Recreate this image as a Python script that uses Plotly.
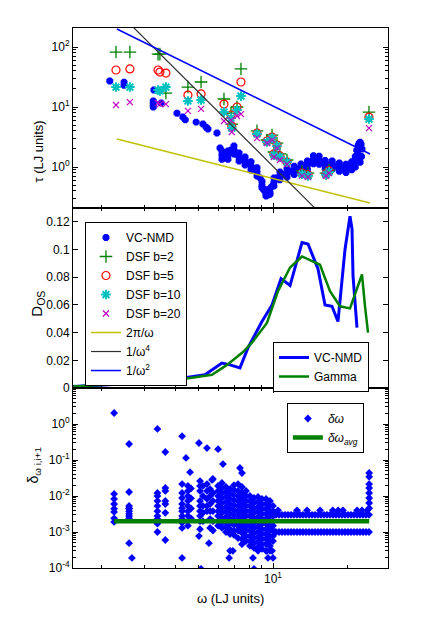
import plotly.graph_objects as go
from plotly.subplots import make_subplots

# ---------------- top panel: lifetimes ----------------
vc_omega = [2.17, 2.48, 2.48, 3.28, 3.26, 3.26, 3.26, 3.51, 4.07, 4.30, 4.40, 4.87, 5.19, 5.35, 5.44, 5.92,
            6.09, 6.20, 6.38, 6.56, 6.75, 6.94, 7.07, 7.28, 7.48, 7.70, 7.91, 8.14, 8.37, 8.61, 8.86, 9.02,
            9.19, 9.37, 9.54, 9.72, 9.91, 10.09, 10.38, 10.67, 11.0, 11.4, 11.8, 12.2, 12.6, 13.0, 13.4,
            13.8, 14.2, 14.6, 15.0, 15.4, 15.8, 16.3, 16.8, 17.4, 18.0, 18.6, 19.2, 19.8, 20.4, 20.9, 21.3,
            21.6, 21.9, 22.2, 22.4, 21.6, 21.9, 22.2, 22.4, 22.6, 22.8, 23.0, 22.9, 22.6]
vc_tau = [27.1, 26.0, 23.0, 19.2, 12.6, 11.2, 10.0, 11.7, 7.9, 6.8, 6.1, 5.6, 5.2, 4.6, 4.3, 3.7,
          2.07, 1.58, 1.41, 1.58, 1.92, 1.92, 1.65, 1.47, 1.36, 1.26, 1.17, 1.04, 0.93, 0.83, 0.66, 0.50,
          0.41, 0.355, 0.34, 0.38, 0.48, 0.56, 0.66, 0.71, 0.76, 0.80, 0.84, 0.88, 0.92, 0.96, 1.02,
          1.08, 1.2, 1.32, 1.40, 1.30, 1.18, 1.10, 1.08, 1.08, 1.04, 1.0, 0.97, 0.95, 0.97, 1.05, 1.2,
          1.5, 1.9, 2.3, 2.5, 1.0, 1.3, 1.6, 2.0, 2.6, 2.4, 2.0, 1.5, 1.2]
vc_band_omega = [6.2, 6.56, 6.94, 7.28, 7.7, 8.14, 8.61, 9.02, 9.37, 9.72, 10.09, 10.67, 11.4, 12.2, 13.0,
                 13.8, 14.6, 15.4, 16.3, 17.4, 18.6, 19.8, 20.9]
vc_band_upper = [1.85, 1.85, 2.25, 1.72, 1.47, 1.22, 0.97, 0.58, 0.42, 0.44, 0.66, 0.83, 0.94, 1.03, 1.12,
                 1.26, 1.54, 1.52, 1.29, 1.26, 1.17, 1.11, 1.23]
vc_band_lower = [1.35, 1.35, 1.64, 1.26, 1.08, 0.89, 0.71, 0.45, 0.33, 0.35, 0.48, 0.61, 0.68, 0.75, 0.82,
                 0.92, 1.13, 1.11, 0.94, 0.92, 0.85, 0.81, 0.90]

dsf_omega = [2.30, 2.62, 3.41, 3.47, 3.67, 4.51, 5.10, 6.32, 6.75, 6.80, 7.14, 7.41, 8.61, 9.45, 9.91,
             10.09, 10.38, 10.67, 11.40, 13.12, 13.88, 16.41, 16.89, 24.55]
dsf_b2 = [82.5, 82.5, 76.0, 76.0, 17.1, 21.5, 26.1, 13.6, 7.9, 5.2, 10.0, 43.1, 4.0, 2.82, 3.41,
          1.78, 2.51, 1.65, 1.31, 0.86, 0.79, 0.79, 0.89, 8.25]
dsf_b5 = [41.4, 43.1, 41.4, 38.3, 36.8, 15.8, 16.5, 11.2, 7.36, 4.82, 10.0, 26.1, 3.69, 2.71, 3.16,
          1.65, 2.33, 1.53, 1.21, 0.79, 0.74, 0.76, 0.86, 6.8]
dsf_b10 = [21.5, 21.5, 19.2, 18.5, 21.5, 12.6, 13.1, 8.25, 6.55, 4.46, 8.9, 15.2, 3.55, 2.61, 3.04,
           1.58, 2.24, 1.47, 1.21, 0.76, 0.71, 0.74, 0.83, 6.3]
dsf_b20 = [10.8, 12.1, 11.7, 11.2, 11.2, 8.6, 9.3, 5.84, 6.0, 3.83, 7.08, 7.6, 3.04, 2.51, 2.82,
           1.47, 2.07, 1.31, 1.12, 0.71, 0.68, 0.71, 0.79, 4.46]

ref_omega = [2.32, 24.8]
ref_2pi = [2.93, 0.251]
ref_w2 = [200, 1.65]
ref_w4_omega = [2.70, 14.8]
ref_w4 = [215, 0.207]

# ---------------- middle panel: density of states ----------------
dos_vc_omega = [1.54, 1.98, 3.16, 4.60, 5.29, 6.20, 6.69, 7.34, 7.91, 9.02, 9.91, 10.78, 11.73, 13.12,
                13.88, 15.24, 16.27, 17.37, 18.37, 19.62, 20.56, 20.95, 21.15, 21.95]
dos_vc = [0.001, 0.002, 0.004, 0.008, 0.0095, 0.018, 0.0167, 0.0145, 0.029, 0.048, 0.060, 0.079, 0.074,
          0.105, 0.104, 0.086, 0.060, 0.059, 0.048, 0.100, 0.124, 0.115, 0.081, 0.0436]
dos_g_omega = [1.54, 1.98, 3.16, 4.60, 5.65, 6.50, 7.55, 8.21, 9.45, 10.48, 11.73, 13.12, 15.52, 17.05,
               18.72, 20.56, 23.0, 23.66, 24.34]
dos_g = [0.001, 0.002, 0.004, 0.0073, 0.0095, 0.0167, 0.026, 0.0327, 0.047, 0.070, 0.087, 0.095, 0.089,
         0.070, 0.059, 0.0575, 0.082, 0.059, 0.040]

# ---------------- bottom panel: frequency spacing ----------------
out_omega = [2.26, 2.60, 2.60, 2.67, 3.39, 3.39, 3.65, 3.65, 4.27, 4.43, 4.60, 4.27, 5.0, 5.39, 5.98,
             5.65, 6.26, 7.34, 7.48, 5.0, 5.1, 5.49, 6.69, 6.87, 6.63, 8.29, 8.37, 9.54, 9.45, 9.91, 10.0]
out_delta = [2.02, 0.278, 0.00049, 0.00019, 0.73, 0.001, 0.167, 0.0006, 0.46, 0.114, 0.046, 0.00019,
             0.297, 0.215, 0.20, 0.028, 0.077, 0.060, 0.0435, 0.00077, 0.000095, 0.00049, 0.0003,
             0.0003, 0.00019, 0.00019, 0.000095, 0.00019, 0.0003, 0.0003, 0.00019]

col_omega = [2.26, 2.60, 3.39, 3.65, 4.27, 4.51, 4.64,
             5.05, 5.19, 5.39, 5.55, 5.70, 5.98, 6.20, 6.44, 6.69, 6.94, 7.21, 7.48, 7.77, 8.06,
             8.37, 8.69, 9.02, 9.37, 9.72, 10.0, 24.6]
col_delta = [
    [0.0114, 0.0083, 0.0060, 0.0044, 0.0036, 0.0024, 0.0019],
    [0.0129, 0.0053, 0.0046, 0.0044, 0.0038, 0.0032, 0.0028, 0.0024],
    [0.0121, 0.0100, 0.0073, 0.0053, 0.0038, 0.0028, 0.0023, 0.0017],
    [0.0167, 0.0138, 0.0073, 0.0060, 0.0034],
    [0.0215, 0.0121, 0.0088, 0.0060, 0.0046, 0.0038, 0.0028, 0.0023, 0.0018, 0.0013],
    [0.019, 0.0138, 0.0100, 0.0073, 0.0053, 0.0038, 0.0028, 0.0020, 0.0015],
    [0.0162, 0.0086, 0.0045, 0.0024],
    [0.026, 0.019, 0.0138, 0.0073, 0.0053, 0.0038, 0.0028, 0.0020, 0.0012],
    [0.019, 0.0100, 0.0053, 0.0034, 0.0020],
    [0.0215, 0.0138, 0.0083, 0.0053, 0.0038],
    [0.0156, 0.0100, 0.0060, 0.0038, 0.0023, 0.0013],
    [0.0297, 0.0121, 0.0073, 0.0038, 0.0020, 0.0011],
    [0.019, 0.0138, 0.0100, 0.0073, 0.0053, 0.0038, 0.0028, 0.0020, 0.0015],
    [0.023, 0.0167, 0.0121, 0.0088, 0.0064, 0.0046, 0.0034, 0.0024, 0.0018, 0.0013],
    [0.0178, 0.0129, 0.0094, 0.0068, 0.0049, 0.0036, 0.0026, 0.0019, 0.0014, 0.0010],
    [0.0156, 0.0114, 0.0083, 0.0060, 0.0044, 0.0032, 0.0023, 0.0017, 0.0012, 0.00088],
    [0.020, 0.0147, 0.0107, 0.0077, 0.0056, 0.0041, 0.0030, 0.0022, 0.0016, 0.0011, 0.00083],
    [0.0215, 0.0138, 0.0100, 0.0073, 0.0053, 0.0038, 0.0028, 0.0020, 0.0015, 0.0011, 0.00068],
    [0.0178, 0.0121, 0.0088, 0.0064, 0.0046, 0.0034, 0.0024, 0.0018, 0.0013, 0.00094, 0.00064, 0.00046],
    [0.0138, 0.0100, 0.0073, 0.0053, 0.0038, 0.0028, 0.0020, 0.0015, 0.0011, 0.00077, 0.00056],
    [0.0100, 0.0073, 0.0053, 0.0038, 0.0028, 0.0020, 0.0015, 0.0011, 0.00077, 0.00056, 0.00041],
    [0.0088, 0.0064, 0.0046, 0.0034, 0.0024, 0.0018, 0.0013, 0.00094, 0.00068, 0.00049, 0.00036],
    [0.0094, 0.0068, 0.0049, 0.0036, 0.0026, 0.0019, 0.0014, 0.0010, 0.00073, 0.00053, 0.00038, 0.00030],
    [0.0083, 0.0060, 0.0044, 0.0032, 0.0023, 0.0017, 0.0012, 0.00088, 0.00064, 0.00046, 0.00034],
    [0.0083, 0.0060, 0.0044, 0.0032, 0.0023, 0.0017, 0.0012, 0.00088, 0.00064, 0.00046, 0.00030],
    [0.0073, 0.0053, 0.0038, 0.0028, 0.0020, 0.0015, 0.0011, 0.00077, 0.00056, 0.00041, 0.00030],
    [0.0053, 0.0038, 0.0028, 0.0020, 0.0015, 0.0011, 0.00077, 0.00056],
    [0.0435, 0.034, 0.0215, 0.0167, 0.0121, 0.0088, 0.0064, 0.0046],
]

band_omega = [10.28, 10.58, 10.88, 11.19, 11.51, 11.84, 12.17, 12.52, 12.88, 13.24, 13.62, 14.01, 14.41,
              14.82, 15.24, 15.67, 16.12, 16.58, 17.05, 17.54, 18.04, 18.55, 19.08, 19.62, 20.18, 20.76,
              21.35, 21.96, 22.58, 23.23, 23.89, 24.57]
band_upper = [0.003, 0.003, 0.003, 0.003, 0.003, 0.003, 0.003, 0.003, 0.003, 0.003, 0.003, 0.003, 0.003,
              0.003, 0.003, 0.003, 0.003, 0.003, 0.003, 0.003, 0.003, 0.003, 0.003, 0.003, 0.003, 0.003,
              0.003, 0.003, 0.003, 0.003, 0.003, 0.003]
band_lower = [0.001, 0.001, 0.001, 0.001, 0.001, 0.001, 0.001, 0.001, 0.001, 0.001, 0.001, 0.001, 0.001,
              0.001, 0.001, 0.001, 0.001, 0.001, 0.001, 0.001, 0.001, 0.001, 0.001, 0.001, 0.001, 0.001,
              0.001, 0.001, 0.001, 0.001, 0.001, 0.001]
bump_omega = [10.48, 12.52, 13.75, 15.53, 17.5, 18.4, 19.25, 21.97, 23.0, 24.2]
bump_delta = [0.004, 0.004, 0.004, 0.004, 0.004, 0.004, 0.004, 0.004, 0.004, 0.004]

avg_omega = [2.26, 24.6]
avg_delta = [0.002, 0.002]

# ---------------- assemble ----------------
FONT = "Liberation Sans"
BLACK = "#000000"

d_omega, d_delta = list(out_omega), list(out_delta)
for w, ds in zip(col_omega, col_delta):
    d_omega += [w] * len(ds)
    d_delta += ds
d_omega += band_omega + band_omega + bump_omega
d_delta += band_upper + band_lower + bump_delta

fig = make_subplots(rows=3, cols=1, shared_xaxes=True, vertical_spacing=0)

fig.add_trace(go.Scatter(x=vc_omega + vc_band_omega + vc_band_omega,
                         y=vc_tau + vc_band_upper + vc_band_lower,
                         mode="markers", name="VC-NMD", legend="legend",
                         marker=dict(symbol="octagon", size=7.5, color="#0000ff")), row=1, col=1)
fig.add_trace(go.Scatter(x=dsf_omega, y=dsf_b2, mode="markers", name="DSF b=2", legend="legend",
                         marker=dict(symbol="cross-thin-open", size=9, color="#008000",
                                     line=dict(width=1.3, color="#008000"))), row=1, col=1)
fig.add_trace(go.Scatter(x=dsf_omega, y=dsf_b5, mode="markers", name="DSF b=5", legend="legend",
                         marker=dict(symbol="circle-open", size=8, color="#ff0000",
                                     line=dict(width=1.2, color="#ff0000"))), row=1, col=1)
fig.add_trace(go.Scatter(x=dsf_omega, y=dsf_b10, mode="markers", name="DSF b=10", legend="legend",
                         marker=dict(symbol="asterisk-open", size=8, color="#00c0c0",
                                     line=dict(width=2, color="#00c0c0"))), row=1, col=1)
fig.add_trace(go.Scatter(x=dsf_omega, y=dsf_b20, mode="markers", name="DSF b=20", legend="legend",
                         marker=dict(symbol="x-thin-open", size=6, color="#c000c0",
                                     line=dict(width=1.2, color="#c000c0"))), row=1, col=1)
fig.add_trace(go.Scatter(x=ref_omega, y=ref_2pi, mode="lines", name="2π/ω", legend="legend",
                         line=dict(color="#c0c000", width=1.5)), row=1, col=1)
fig.add_trace(go.Scatter(x=ref_w4_omega, y=ref_w4, mode="lines", name="1/ω<sup>4</sup>", legend="legend",
                         line=dict(color="#303030", width=1.2)), row=1, col=1)
fig.add_trace(go.Scatter(x=ref_omega, y=ref_w2, mode="lines", name="1/ω<sup>2</sup>", legend="legend",
                         line=dict(color="#0000ff", width=1.5)), row=1, col=1)

fig.add_trace(go.Scatter(x=dos_vc_omega, y=dos_vc, mode="lines", name="VC-NMD", legend="legend2",
                         line=dict(color="#0000ff", width=3)), row=2, col=1)
fig.add_trace(go.Scatter(x=dos_g_omega, y=dos_g, mode="lines", name="Gamma", legend="legend2",
                         line=dict(color="#008000", width=2.5)), row=2, col=1)

fig.add_trace(go.Scatter(x=d_omega, y=d_delta, mode="markers", name="<i>δω</i>", legend="legend3",
                         marker=dict(symbol="diamond", size=6, color="#0000ff")), row=3, col=1)
fig.add_trace(go.Scatter(x=avg_omega, y=avg_delta, mode="lines", name="<i>δω<sub>avg</sub></i>",
                         legend="legend3", line=dict(color="#008000", width=4.5)), row=3, col=1)

xminor = dict(tickvals=[2, 3, 4, 5, 6, 7, 8, 9, 20, 30], ticks="inside", ticklen=3, tickcolor=BLACK)
for i in (1, 2, 3):
    fig.update_xaxes(type="log", range=[0.187, 1.4675], showline=True, linecolor=BLACK, linewidth=1,
                     mirror=("allticks" if i > 1 else True), ticks="inside", ticklen=5, tickcolor=BLACK,
                     tickvals=[10], ticktext=["10<sup>1</sup>"], minor=xminor,
                     showgrid=False, zeroline=False, row=i, col=1)

fig.update_yaxes(type="log", range=[-0.683, 2.317], showline=True, linecolor=BLACK, mirror="allticks",
                 ticks="inside", ticklen=5, tickcolor=BLACK, showgrid=False, zeroline=False,
                 tickvals=[1, 10, 100], ticktext=["10<sup>0</sup>", "10<sup>1</sup>", "10<sup>2</sup>"],
                 minor=dict(tickvals=[0.3, 0.4, 0.5, 0.6, 0.7, 0.8, 0.9, 2, 3, 4, 5, 6, 7, 8, 9,
                                      20, 30, 40, 50, 60, 70, 80, 90, 200],
                            ticks="inside", ticklen=3, tickcolor=BLACK),
                 row=1, col=1)
fig.update_yaxes(range=[0, 0.13], showline=True, linecolor=BLACK, mirror="allticks",
                 ticks="inside", ticklen=5, tickcolor=BLACK, showgrid=False, zeroline=False,
                 tickvals=[0, 0.02, 0.04, 0.06, 0.08, 0.1, 0.12],
                 ticktext=["0", "0.02", "0.04", "0.06", "0.08", "0.1", "0.12"], row=2, col=1)
bminor = []
for dec in (1e-4, 1e-3, 1e-2, 1e-1, 1):
    bminor += [dec * k for k in range(2, 10)]
fig.update_yaxes(type="log", range=[-4, 1], showline=True, linecolor=BLACK, mirror="allticks",
                 ticks="inside", ticklen=5, tickcolor=BLACK, showgrid=False, zeroline=False,
                 tickvals=[1e-4, 1e-3, 1e-2, 1e-1, 1],
                 ticktext=["10<sup>-4</sup>", "10<sup>-3</sup>", "10<sup>-2</sup>", "10<sup>-1</sup>",
                           "10<sup>0</sup>"],
                 minor=dict(tickvals=bminor, ticks="inside", ticklen=3, tickcolor=BLACK),
                 row=3, col=1)

leg_common = dict(bgcolor="white", bordercolor=BLACK, borderwidth=1, xanchor="left", yanchor="top",
                  font=dict(family=FONT, size=12, color=BLACK), tracegroupgap=0)
fig.update_layout(
    width=426, height=629,
    margin=dict(l=73, r=38, t=28, b=61),
    paper_bgcolor="white", plot_bgcolor="white",
    font=dict(family=FONT, size=12, color=BLACK),
    legend=dict(x=0.038, y=0.6407, **leg_common),
    legend2=dict(x=0.635, y=0.4185, **leg_common),
    legend3=dict(x=0.679, y=0.3056, **leg_common),
    annotations=[
        dict(text="τ (LJ units)", x=-0.14, y=0.833, xref="paper", yref="paper", textangle=-90,
             showarrow=False, font=dict(family=FONT, size=13)),
        dict(text="D<sub>OS</sub>", x=-0.15, y=0.49, xref="paper", yref="paper", textangle=-90,
             showarrow=False, font=dict(family=FONT, size=15)),
        dict(text="δ<sub>ω i,i+1</sub>", x=-0.16, y=0.152, xref="paper", yref="paper", textangle=-90,
             showarrow=False, font=dict(family=FONT, size=14)),
        dict(text="ω (LJ units)", x=0.5, y=-0.074, xref="paper", yref="paper", showarrow=False,
             font=dict(family=FONT, size=13)),
    ],
)

fig.write_html("out.html", config={"displayModeBar": False},
               post_script="document.body.style.margin='0px';")
